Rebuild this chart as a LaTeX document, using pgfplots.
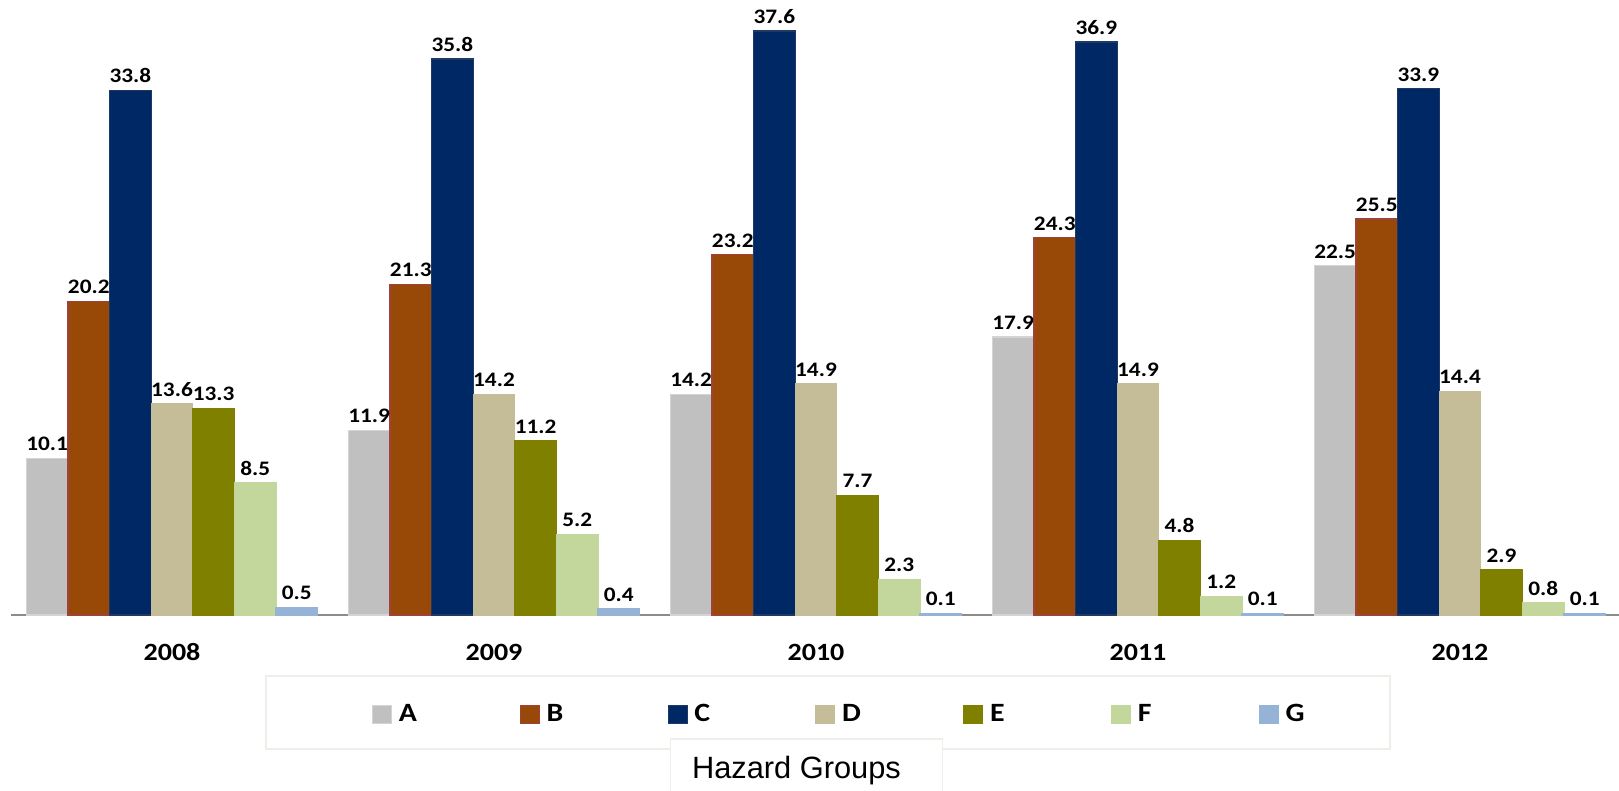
\documentclass[border=0pt]{standalone}
\usepackage{fontspec}
\setmainfont{Carlito}
\newfontfamily\lab[FakeStretch=1.13]{Carlito}
\newfontfamily\arialfont{Liberation Sans}
\usepackage{pgfplots}
\usepackage{pgfplotstable}
\pgfplotsset{compat=1.18}

\definecolor{cA}{HTML}{C0C0C0}
\definecolor{cAb}{HTML}{D4D4D4}
\definecolor{cB}{HTML}{984807}
\definecolor{cBb}{HTML}{A0413A}
\definecolor{cC}{HTML}{002864}
\definecolor{cCb}{HTML}{1F3864}
\definecolor{cD}{HTML}{C4BD97}
\definecolor{cE}{HTML}{7F7F00}
\definecolor{cF}{HTML}{C3D69B}
\definecolor{cG}{HTML}{95B3D7}
\definecolor{axisgray}{HTML}{8C8C8C}
\definecolor{boxline}{HTML}{EFEFEA}

% share of each hazard group per year (0 = 2008 ... 4 = 2012)
\pgfplotstableread{
x  A    B    C    D    E    F   G
0  10.1 20.2 33.8 13.6 13.3 8.5 0.5
1  11.9 21.3 35.8 14.2 11.2 5.2 0.4
2  14.2 23.2 37.6 14.9 7.7  2.3 0.1
3  17.9 24.3 36.9 14.9 4.8  1.2 0.1
4  22.5 25.5 33.9 14.4 2.9  0.8 0.1
}\hazard

\newcommand\legtext[1]{\makebox[60.5pt][l]{#1}}

\begin{document}
\begin{tikzpicture}
\pgfplotsset{
  sqlegend/.style={legend image code/.code={%
    \draw[##1, line width=0.4pt] (0pt,-4.5pt) rectangle (9.5pt,4.5pt);}},
}
\begin{axis}[
  at={(5.5pt,88pt)}, anchor=south west,
  scale only axis, width=805pt, height=306.7pt,
  xmin=-0.5, xmax=4.5, ymin=0, ymax=39.5,
  ybar=0pt, bar width=0.1292,
  axis x line=bottom, axis y line=none,
  x axis line style={-, draw=axisgray, line width=1pt},
  xtick={0,1,2,3,4},
  xticklabels={2008,2009,2010,2011,2012},
  major tick length=0pt,
  xticklabel style={font=\lab\bfseries\fontsize{12.4}{14}\selectfont,
    anchor=base, yshift=-22.85pt},
  ytick=\empty,
  clip=false,
  nodes near coords,
  every node near coord/.append style={
    font=\lab\bfseries\fontsize{10.3}{12}\selectfont,
    text=black, anchor=base, yshift=3.75pt},
  /pgf/number format/fixed,
  /pgf/number format/fixed zerofill,
  /pgf/number format/precision=1,
  /pgf/number format/assume math mode=true,
  legend columns=7,
  legend style={at={(0.224,-0.1622)}, anchor=west, draw=none, fill=none,
    inner sep=0pt, column sep=0pt, nodes={inner sep=0pt},
    font=\lab\bfseries\fontsize{13.2}{15}\selectfont},
  legend cell align=left,
]
\addplot[fill=cA, draw=cAb, line width=0.6pt, sqlegend] table[x=x, y=A] {\hazard};
\addlegendentry{\hspace{3.5pt}\legtext{A}}
\addplot[fill=cB, draw=cBb, line width=0.6pt, sqlegend] table[x=x, y=B] {\hazard};
\addlegendentry{\hspace{3.5pt}\legtext{B}}
\addplot[fill=cC, draw=cCb, line width=0.6pt, sqlegend] table[x=x, y=C] {\hazard};
\addlegendentry{\hspace{3.5pt}\legtext{C}}
\addplot[fill=cD, draw=cD, line width=0.6pt, sqlegend] table[x=x, y=D] {\hazard};
\addlegendentry{\hspace{3.5pt}\legtext{D}}
\addplot[fill=cE, draw=cE, line width=0.6pt, sqlegend] table[x=x, y=E] {\hazard};
\addlegendentry{\hspace{3.5pt}\legtext{E}}
\addplot[fill=cF, draw=cF, line width=0.6pt, sqlegend] table[x=x, y=F] {\hazard};
\addlegendentry{\hspace{3.5pt}\legtext{F}}
\addplot[fill=cG, draw=cG, line width=0.6pt, sqlegend] table[x=x, y=G] {\hazard};
\addlegendentry{\hspace{3.5pt}\legtext{G}}
\end{axis}

% legend frame and axis title box
\draw[boxline, line width=0.75pt] (133pt,21pt) rectangle (695pt,57.5pt);
\filldraw[fill=white, draw=boxline, line width=0.75pt] (335.35pt,-5pt) rectangle (471.35pt,26pt);
\node[anchor=base west, inner sep=0pt] at (345.85pt,6pt)
  {\arialfont\fontsize{15.4}{18}\selectfont Hazard Groups};

\pgfresetboundingbox
\path[use as bounding box] (0pt,0pt) rectangle (809.5pt,395.5pt);
\end{tikzpicture}
\end{document}
